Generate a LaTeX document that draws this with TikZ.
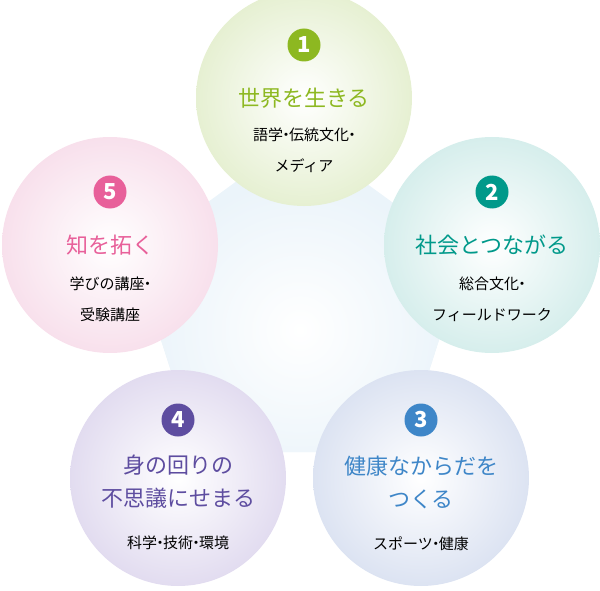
\documentclass[tikz,border=0pt]{standalone}
\usepackage{fontspec}
\setmainfont{Noto Sans CJK JP}
\usetikzlibrary{positioning}
\definecolor{cGreen}{HTML}{8DB821}
\definecolor{cTeal}{HTML}{00998A}
\definecolor{cBlue}{HTML}{3E86C8}
\definecolor{cPurple}{HTML}{5E4DA0}
\definecolor{cPink}{HTML}{E8609A}
\definecolor{fGreen}{HTML}{E6F0D2}
\definecolor{fTeal}{HTML}{D6EEEC}
\definecolor{fBlue}{HTML}{DCE3F2}
\definecolor{fPurple}{HTML}{E2DCF0}
\definecolor{fPink}{HTML}{F8E0EC}
\definecolor{fPenta}{HTML}{EBF4FA}
\newcommand{\dt}{\kern-0.3em・\kern-0.3em}
\begin{document}
\begin{tikzpicture}[x=1pt, y=-1pt,
    ball/.style={circle, minimum size=216pt, inner sep=0pt, shading=radial, inner color=white},
    badge/.style={circle, fill=#1, text=white, minimum size=33pt, inner sep=0pt, font=\fontsize{22}{22}\selectfont\bfseries},
    title/.style={text=#1, align=center, font=\fontsize{22}{33}\selectfont},
    sub/.style={align=center, font=\fontsize{15}{31}\selectfont}]
    \useasboundingbox (0,0) rectangle (600,591);

    % background pentagon
    \begin{scope}
      \clip (300,135) -- (466,256) -- (403,452) -- (197,452) -- (134,256) -- cycle;
      \fill[fPenta] (100,100) rectangle (500,500);
      \shade[inner color=white, outer color=fPenta] (300,330) circle (150);
    \end{scope}

    \node [ball, outer color=fGreen] (w1) at (304,98) {};
    \node [ball, outer color=fTeal] (w2) at (492,245) {};
    \node [ball, outer color=fBlue] (w3) at (421,478) {};
    \node [ball, outer color=fPurple] (w4) at (178,478) {};
    \node [ball, outer color=fPink] (w5) at (110,245) {};

    \node [badge=cGreen] (n1) at (304,45) {1};
    \node [title=cGreen] (t1) at (304,98) {世界を生きる};
    \node [sub] (s1) at (304,150) {語学\dt 伝統文化\dt\\メディア};

    \node [badge=cTeal] (n2) at (492,192) {2};
    \node [title=cTeal] (t2) at (492,245) {社会とつながる};
    \node [sub] (s2) at (492,299) {総合文化\dt\\フィールドワーク};

    \node [badge=cBlue] (n3) at (421,420) {3};
    \node [title=cBlue] (t3) at (421,482) {健康なからだを\\つくる};
    \node [sub] (s3) at (421,544) {スポーツ\dt 健康};

    \node [badge=cPurple] (n4) at (178,420) {4};
    \node [title=cPurple] (t4) at (178,482) {身の回りの\\不思議にせまる};
    \node [sub] (s4) at (178,543) {科学\dt 技術\dt 環境};

    \node [badge=cPink] (n5) at (110,192) {5};
    \node [title=cPink] (t5) at (110,245) {知を拓く};
    \node [sub] (s5) at (110,299) {学びの講座\dt\\受験講座};
\end{tikzpicture}
\end{document}
